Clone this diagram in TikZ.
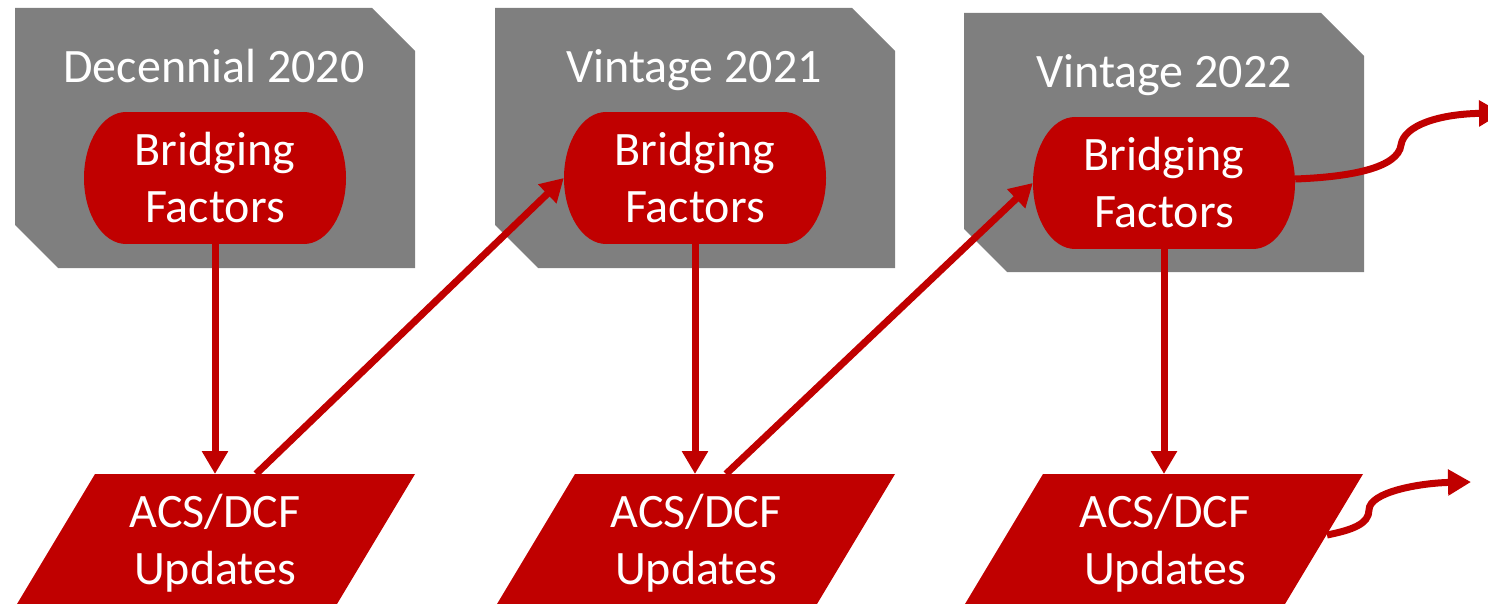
\documentclass[tikz,border=0pt]{standalone}
\usepackage{fontspec}
\setmainfont{Carlito}
\usetikzlibrary{arrows.meta}
\definecolor{bfred}{HTML}{C00000}
\definecolor{boxgray}{HTML}{7F7F7F}
\newcommand{\bigfont}{\fontsize{48}{57}\selectfont}
\tikzset{
  title/.style={text=white, font=\bigfont, anchor=base, inner sep=0pt},
  bftext/.style={text=white, font=\bigfont, align=center, minimum width=262pt, minimum height=132pt, inner sep=0pt},
  ptext/.style={text=white, font=\bigfont, align=center, inner sep=0pt},
  conn/.style={draw=bfred, line width=7pt, -{Triangle[width=25pt,length=23pt]}},
}
\newcommand{\grayboxshape}[4]{%
  \fill[boxgray] (#1,#2) -- (#3-43,#2) -- (#3,#2+43) -- (#3,#4) -- (#1+43,#4) -- (#1,#4-43) -- cycle;}
\newcommand{\stadiumshape}[4]{%
  \fill[bfred] (#1+42,#2) rectangle (#3-42,#4);
  \fill[bfred] (#1+42,{(#2+#4)/2}) ellipse [x radius=42, y radius={(#4-#2)/2}];
  \fill[bfred] (#3-42,{(#2+#4)/2}) ellipse [x radius=42, y radius={(#4-#2)/2}];}
\newcommand{\parashape}[2]{%
  \fill[bfred] (#1,474) -- (#2,474) -- (#2-78,604) -- (#1-78,604) -- cycle;}
\begin{document}
\begin{tikzpicture}[x=1pt,y=-1pt]
\useasboundingbox (0,0) rectangle (1488,604);
\clip (0,0) rectangle (1488,604);
% gray boxes
\grayboxshape{15}{8}{415}{268}
\grayboxshape{495}{8}{895}{268}
\grayboxshape{964}{13}{1364}{272}
\node[title] (t1) at (214,83) {Decennial 2020};
\node[title] (t2) at (694,83) {Vintage 2021};
\node[title] (t3) at (1164,88) {Vintage 2022};
% bridging factors
\stadiumshape{84}{112}{346}{244}
\stadiumshape{564}{112}{826}{244}
\stadiumshape{1033}{117}{1295}{249}
\node[bftext] (b1) at (215,178) {Bridging\\Factors};
\node[bftext] (b2) at (695,178) {Bridging\\Factors};
\node[bftext] (b3) at (1164,183) {Bridging\\Factors};
% parallelograms
\parashape{95}{415}
\parashape{575}{895}
\parashape{1043}{1363}
\node[ptext] (p1) at (215,543) {ACS/DCF\\Updates};
\node[ptext] (p2) at (696,543) {ACS/DCF\\Updates};
\node[ptext] (p3) at (1165,543) {ACS/DCF\\Updates};
\coordinate (p1top) at (256,474);
\coordinate (p2top) at (726,474);
\coordinate (p3top) at (1164,474);
\coordinate (c2s) at (1327,535);
\coordinate (k1) at (1401,145);
\coordinate (e1) at (1502,113);
\coordinate (k2) at (1369,510);
\coordinate (e2) at (1471,482);
% connectors
\draw[conn] (b1.south) -- (b1.south |- p1top);
\draw[conn] (p1top) -- (b2.west);
\draw[conn] (b2.south) -- (b2.south |- p2top);
\draw[conn] (p2top) -- (b3.west);
\draw[conn] (b3.south) -- (p3top);
\draw[conn] ([yshift=4pt]b3.east) .. controls (1350,177) and (1398,168) .. (k1) .. controls (1404,125) and (1440,114) .. (e1);
\draw[conn] (c2s) .. controls (1352,530) and (1369,524) .. (k2) .. controls (1369,492) and (1420,483) .. (e2);
\end{tikzpicture}
\end{document}
